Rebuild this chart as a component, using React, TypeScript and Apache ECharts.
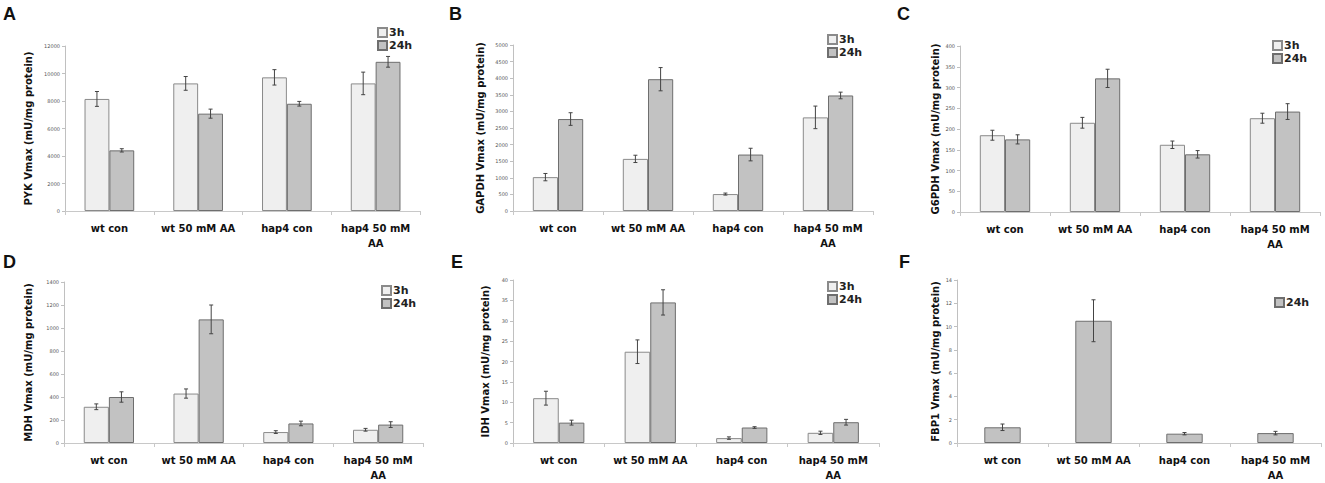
import React, { useEffect, useRef } from "react";
import * as echarts from "echarts";

const categories = ["wt con", "wt 50 mM AA", "hap4 con", "hap4 50 mM\nAA"];

const pyk3h = [8150, 9280, 9720, 9280];
const pyk3hErr = [540, 500, 560, 820];
const pyk24h = [4410, 7080, 7800, 10850];
const pyk24hErr = [120, 330, 170, 390];

const gapdh3h = [1020, 1570, 510, 2820];
const gapdh3hErr = [110, 110, 30, 340];
const gapdh24h = [2770, 3970, 1700, 3480];
const gapdh24hErr = [190, 350, 190, 100];

const g6pdh3h = [185, 215, 162, 226];
const g6pdh3hErr = [12, 13, 9, 12];
const g6pdh24h = [175, 322, 139, 242];
const g6pdh24hErr = [11, 22, 9, 19];

const mdh3h = [315, 430, 95, 115];
const mdh3hErr = [25, 40, 12, 12];
const mdh24h = [400, 1075, 170, 160];
const mdh24hErr = [45, 125, 20, 25];

const idh3h = [11, 22.4, 1.2, 2.5];
const idh3hErr = [1.7, 2.9, 0.3, 0.4];
const idh24h = [5, 34.5, 3.8, 5.1];
const idh24hErr = [0.6, 3.1, 0.2, 0.7];

const fbp24h = [1.35, 10.5, 0.8, 0.85];
const fbp24hErr = [0.28, 1.8, 0.1, 0.15];

const yMax = [12000, 5000, 400, 1400, 40, 14];
const yStep = [2000, 500, 50, 200, 5, 2];
const yNames = [
  "PYK Vmax (mU/mg protein)",
  "GAPDH Vmax (mU/mg protein)",
  "G6PDH Vmax (mU/mg protein)",
  "MDH Vmax (mU/mg protein)",
  "IDH Vmax (mU/mg protein)",
  "FBP1 Vmax (mU/mg protein)",
];
const panelLetters = ["A", "B", "C", "D", "E", "F"];

type Panel = {
  s3h: number[] | null;
  e3h: number[] | null;
  s24h: number[];
  e24h: number[];
};
const panels: Panel[] = [
  { s3h: pyk3h, e3h: pyk3hErr, s24h: pyk24h, e24h: pyk24hErr },
  { s3h: gapdh3h, e3h: gapdh3hErr, s24h: gapdh24h, e24h: gapdh24hErr },
  { s3h: g6pdh3h, e3h: g6pdh3hErr, s24h: g6pdh24h, e24h: g6pdh24hErr },
  { s3h: mdh3h, e3h: mdh3hErr, s24h: mdh24h, e24h: mdh24hErr },
  { s3h: idh3h, e3h: idh3hErr, s24h: idh24h, e24h: idh24hErr },
  { s3h: null, e3h: null, s24h: fbp24h, e24h: fbp24hErr },
];

// layout (pixels)
const grids = [
  { left: 65, top: 46, width: 355, height: 165 },
  { left: 513, top: 45, width: 360, height: 166 },
  { left: 960, top: 46, width: 360, height: 166 },
  { left: 64, top: 282, width: 359, height: 165 },
  { left: 513, top: 280, width: 366, height: 166 },
  { left: 957, top: 280, width: 364, height: 165 },
];
const nameGaps = [32, 28, 20, 31, 23, 17];
const legendPos = [
  { left: 372, top: 22 },
  { left: 822, top: 29 },
  { left: 1267, top: 35 },
  { left: 376, top: 280 },
  { left: 822, top: 276 },
  { left: 1269, top: 292 },
];
const letterPos = [
  { x: 3, y: 5 },
  { x: 449, y: 5 },
  { x: 897, y: 5 },
  { x: 3, y: 253 },
  { x: 451, y: 253 },
  { x: 899, y: 253 },
];

const FONT = "DejaVu Sans";
const C3H = { color: "#efefef", borderColor: "#8a8a8a", borderWidth: 1 };
const C24H = { color: "#c2c2c2", borderColor: "#6e6e6e", borderWidth: 1 };

function errSeries(gi: number, vals: number[], errs: number[], frac: number) {
  return {
    type: "custom",
    name: "err" + gi + "_" + frac,
    xAxisIndex: gi,
    yAxisIndex: gi,
    z: 5,
    silent: true,
    data: vals.map((v, i) => [i, v, errs[i]]),
    encode: { x: 0, y: 1 },
    renderItem: (params: any, api: any) => {
      const idx = api.value(0);
      const v = api.value(1);
      const e = api.value(2);
      const band = api.size([1, 0])[0];
      const x = api.coord([idx, v])[0] + frac * band;
      const yt = api.coord([idx, v + e])[1];
      const yb = api.coord([idx, v - e])[1];
      const st = { stroke: "#444", lineWidth: 1 };
      return {
        type: "group",
        children: [
          { type: "line", shape: { x1: x, y1: yt, x2: x, y2: yb }, style: st },
          { type: "line", shape: { x1: x - 2, y1: yt, x2: x + 2, y2: yt }, style: st },
          { type: "line", shape: { x1: x - 2, y1: yb, x2: x + 2, y2: yb }, style: st },
        ],
      };
    },
  };
}

export default function App() {
  const ref = useRef<HTMLDivElement>(null);
  useEffect(() => {
    if (!ref.current) return;
    const chart = echarts.init(ref.current, undefined, { renderer: "svg" });
    const series: any[] = [];
    panels.forEach((p, gi) => {
      const single = !p.s3h;
      const bw = single ? 0.4 : 0.28;
      if (p.s3h && p.e3h) {
        series.push({
          type: "bar",
          name: "3h",
          xAxisIndex: gi,
          yAxisIndex: gi,
          data: p.s3h,
          barWidth: bw * 100 + "%",
          barGap: "0%",
          itemStyle: C3H,
        });
      }
      series.push({
        type: "bar",
        name: "24h",
        xAxisIndex: gi,
        yAxisIndex: gi,
        data: p.s24h,
        barWidth: bw * 100 + "%",
        barGap: "0%",
        itemStyle: C24H,
      });
      if (p.s3h && p.e3h) {
        series.push(errSeries(gi, p.s3h, p.e3h, -bw / 2));
        series.push(errSeries(gi, p.s24h, p.e24h, bw / 2));
      } else {
        series.push(errSeries(gi, p.s24h, p.e24h, 0));
      }
    });

    const option: any = {
      animation: false,
      textStyle: { fontFamily: FONT },
      grid: grids.map((g) => ({ ...g, containLabel: false })),
      xAxis: grids.map((_, gi) => ({
        type: "category",
        gridIndex: gi,
        data: categories,
        axisLine: { show: true, lineStyle: { color: "#c8c8c8", width: 1 } },
        axisTick: { show: true, length: 4, interval: 0, lineStyle: { color: "#c8c8c8" } },
        axisLabel: {
          interval: 0,
          fontFamily: FONT,
          fontWeight: "bold",
          fontSize: 10,
          color: "#111",
          margin: 10,
          lineHeight: 15,
        },
      })),
      yAxis: grids.map((_, gi) => ({
        type: "value",
        gridIndex: gi,
        min: 0,
        max: yMax[gi],
        interval: yStep[gi],
        name: yNames[gi],
        nameLocation: "middle",
        nameGap: nameGaps[gi],
        nameTextStyle: { fontFamily: FONT, fontWeight: "bold", fontSize: 10, color: "#111" },
        axisLine: { show: true, lineStyle: { color: "#c0c0c0", width: 1 } },
        axisTick: { show: true, length: 3, lineStyle: { color: "#c0c0c0" } },
        axisLabel: {
          fontSize: 5,
          color: "#555",
          margin: 5,
          fontFamily: FONT,
          formatter: (v: number) => String(v),
        },
        splitLine: { show: false },
      })),
      legend: legendPos.map((lp, gi) => ({
        ...lp,
        orient: "vertical",
        data: gi === 5 ? ["24h"] : ["3h", "24h"],
        icon: "rect",
        itemWidth: 9,
        itemHeight: 9,
        itemGap: 2,
        selectedMode: false,
        textStyle: { fontFamily: FONT, fontWeight: "bold", fontSize: 11, color: "#222", padding: [0, 0, 0, -3] },
      })),
      graphic: panelLetters.map((L, i) => ({
        type: "text",
        x: letterPos[i].x,
        y: letterPos[i].y,
        style: {
          text: L,
          font: "bold 18px 'Liberation Sans', Arial, sans-serif",
          fill: "#111",
        },
      })),
      series,
    };
    chart.setOption(option);
    return () => chart.dispose();
  }, []);
  return (
    <div
      ref={ref}
      style={{ position: "fixed", left: 0, top: 0, width: 1325, height: 483, background: "#fff" }}
    />
  );
}
